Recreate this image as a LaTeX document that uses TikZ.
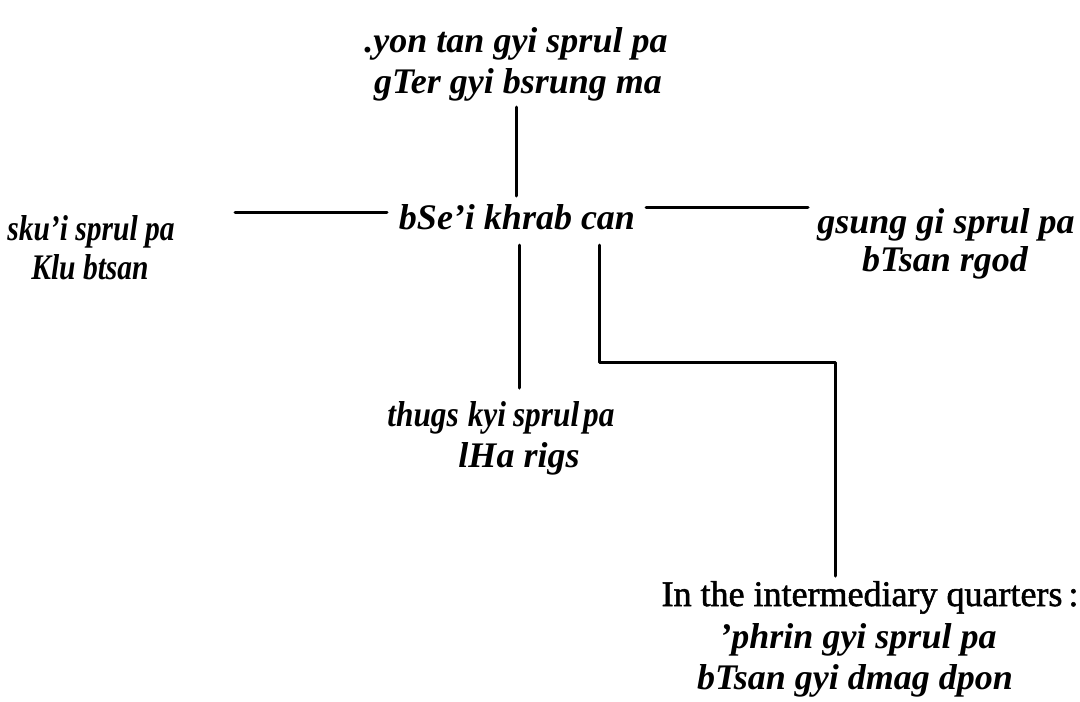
\documentclass[tikz,border=0pt]{standalone}
\usepackage{fontspec}
\setmainfont{Liberation Serif}
\newfontfamily\condfont[FakeStretch=0.82,Ligatures=TeX]{Liberation Serif}
\newfontfamily\semicondfont[FakeStretch=0.87,Ligatures=TeX]{Liberation Serif}
\newfontfamily\heavyfont[FakeBold=1.5,Ligatures=TeX]{Liberation Serif}
\begin{document}
\begin{tikzpicture}[x=1pt,y=-1pt]
\tikzset{
  lbl/.style={anchor=base,inner sep=0pt,font=\fontsize{36}{40}\selectfont\bfseries\itshape},
  lblcond/.style={anchor=base,inner sep=0pt,font=\fontsize{36}{40}\selectfont\condfont\bfseries\itshape},
  lblsemi/.style={anchor=base,inner sep=0pt,font=\fontsize{36}{40}\selectfont\semicondfont\bfseries\itshape},
  lblup/.style={anchor=base,inner sep=0pt,font=\fontsize{36}{40}\selectfont\heavyfont},
  conn/.style={line width=3pt,line cap=round,line join=round}
}
\useasboundingbox[fill=white] (0,0) rectangle (1080,702);
% texts
\node[lbl] (top1) at (516,52) {.yon tan gyi sprul pa};
\node[lbl] (top2) at (518,93) {gTer gyi bsrung ma};
\node[lbl] (center) at (517,229) {bSe'i khrab can};
\node[lblcond] (left1) at (91,240) {sku'i sprul pa};
\node[lblcond] (left2) at (90,279) {Klu btsan};
\node[lbl] (right1) at (946,233) {gsung gi sprul pa};
\node[lbl] (right2) at (945,271) {bTsan rgod};
\node[lblsemi] (bot1) at (501,426) {thugs\hspace{9pt}kyi\hspace{7pt}sprul\hspace{4pt}pa};
\node[lbl] (bot2) at (519,467) {lHa rigs};
\node[lblup] (br1) at (870,606) {In the intermediary quarters\,:};
\node[lbl] (br2) at (858,648) {'phrin gyi sprul pa};
\node[lbl] (br3) at (855,689) {bTsan gyi dmag dpon};
% connector end points
\coordinate (tA) at (516,107);
\coordinate (tB) at (516,196);
\coordinate (lA) at (235,212);
\coordinate (lB) at (387,212);
\coordinate (rA) at (646,207);
\coordinate (rB) at (808,207);
\coordinate (dA) at (519,245);
\coordinate (dB) at (519,388);
\coordinate (eA) at (599,245);
\coordinate (eB) at (835,362);
\coordinate (eC) at (835,576);
% connectors
\draw[conn] (tA) -- (tB);
\draw[conn] (lA) -- (lB);
\draw[conn] (rA) -- (rB);
\draw[conn] (dA) -- (dB);
\draw[conn] (eA) |- (eB) -- (eC);
\end{tikzpicture}
\end{document}
